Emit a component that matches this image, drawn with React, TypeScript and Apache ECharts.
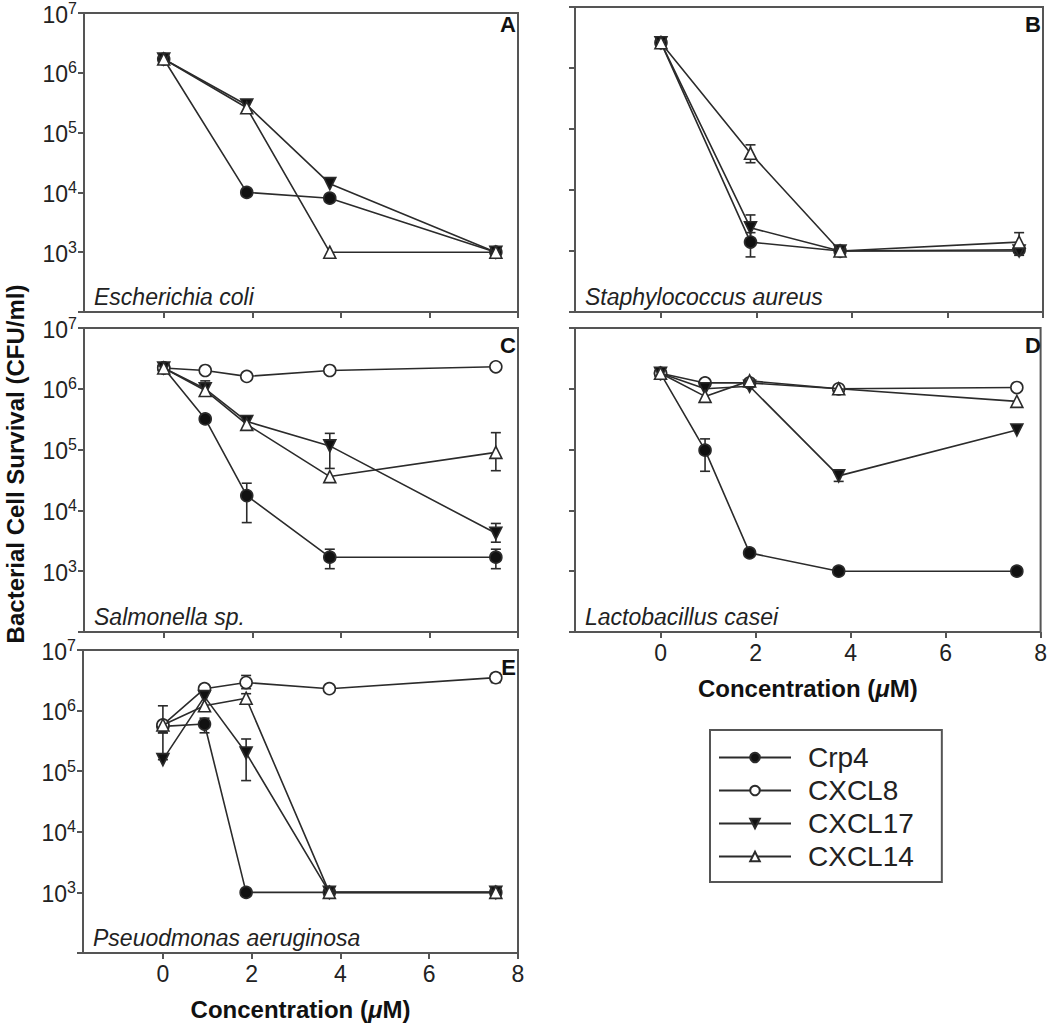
import React, { useEffect, useRef } from 'react';
import * as echarts from 'echarts';

// ---------- data ----------
const seriesNames = ['Crp4', 'CXCL8', 'CXCL17', 'CXCL14'];
const concFour = [0, 1.875, 3.75, 7.5];
const concFive = [0, 0.9375, 1.875, 3.75, 7.5];
const xTickValues = [0, 2, 4, 6, 8];
const panelLetters = ['A', 'B', 'C', 'D', 'E'];
const speciesNames = [
  'Escherichia coli',
  'Staphylococcus aureus',
  'Salmonella sp.',
  'Lactobacillus casei',
  'Pseuodmonas aeruginosa',
];

// A: Escherichia coli
const ecoliCrp4 = [1.7e6, 1.0e4, 8.0e3, 1.0e3];
const ecoliCxcl17 = [1.7e6, 2.9e5, 1.4e4, 1.0e3];
const ecoliCxcl14 = [1.7e6, 2.6e5, 1.0e3, 1.0e3];
const ecoliErrors: number[][] = [];

// B: Staphylococcus aureus
const staphCrp4 = [2.6e6, 1.4e3, 1.0e3, 1.05e3];
const staphCxcl17 = [2.6e6, 2.4e3, 1.0e3, 1.0e3];
const staphCxcl14 = [2.6e6, 4.0e4, 1.0e3, 1.4e3];
const staphErrors = [
  [1.875, 8.0e2, 2.0e3],
  [7.5, 8.5e2, 1.25e3],
  [1.875, 1.6e3, 3.9e3],
  [1.875, 2.8e4, 5.5e4],
  [7.5, 1.0e3, 2.0e3],
];

// C: Salmonella sp.
const salmCrp4 = [2.2e6, 3.2e5, 1.75e4, 1.7e3, 1.7e3];
const salmCxcl8 = [2.2e6, 2.0e6, 1.6e6, 2.0e6, 2.3e6];
const salmCxcl17 = [2.2e6, 1.0e6, 2.9e5, 1.15e5, 4.2e3];
const salmCxcl14 = [2.2e6, 9.4e5, 2.6e5, 3.6e4, 9.0e4];
const salmErrors = [
  [1.875, 6.3e3, 2.8e4],
  [3.75, 1.1e3, 2.3e3],
  [7.5, 1.1e3, 2.3e3],
  [0.9375, 8.0e5, 1.35e6],
  [3.75, 4.9e4, 1.85e5],
  [7.5, 3.0e3, 6.1e3],
  [7.5, 4.5e4, 1.9e5],
];

// D: Lactobacillus casei
const lactoCrp4 = [1.8e6, 9.8e4, 2.0e3, 1.0e3, 1.0e3];
const lactoCxcl8 = [1.8e6, 1.25e6, 1.25e6, 1.0e6, 1.05e6];
const lactoCxcl17 = [1.8e6, 1.0e6, 1.1e6, 3.7e4, 2.1e5];
const lactoCxcl14 = [1.8e6, 7.5e5, 1.35e6, 1.0e6, 6.2e5];
const lactoErrors = [
  [0.9375, 4.4e4, 1.5e5],
  [3.75, 3.0e4, 4.2e4],
];

// E: Pseudomonas aeruginosa
const pseudoCrp4 = [5.5e5, 6.0e5, 1.0e3, 1.0e3, 1.0e3];
const pseudoCxcl8 = [5.8e5, 2.3e6, 2.9e6, 2.3e6, 3.5e6];
const pseudoCxcl17 = [1.55e5, 1.7e6, 2.0e5, 1.0e3, 1.0e3];
const pseudoCxcl14 = [5.8e5, 1.2e6, 1.6e6, 1.0e3, 1.0e3];
const pseudoErrors = [
  [0, 4.3e5, 1.2e6],
  [0, 1.55e5, 4.3e5],
  [0.9375, 4.3e5, 7.5e5],
  [1.875, 2.3e6, 3.8e6],
  [7.5, 2.9e6, 4.1e6],
  [1.875, 7.0e4, 3.4e5],
  [1.875, 1.3e6, 1.9e6],
];

// ---------- panels ----------
const panels = [
  { conc: concFour, values: [ecoliCrp4, null, ecoliCxcl17, ecoliCxcl14], errors: ecoliErrors },
  { conc: concFour, values: [staphCrp4, null, staphCxcl17, staphCxcl14], errors: staphErrors },
  { conc: concFive, values: [salmCrp4, salmCxcl8, salmCxcl17, salmCxcl14], errors: salmErrors },
  { conc: concFive, values: [lactoCrp4, lactoCxcl8, lactoCxcl17, lactoCxcl14], errors: lactoErrors },
  { conc: concFive, values: [pseudoCrp4, pseudoCxcl8, pseudoCxcl17, pseudoCxcl14], errors: pseudoErrors },
];

// layout (pixels)
const gridRects = [
  { left: 84, top: 7, width: 434, height: 305 },
  { left: 575, top: 7, width: 468, height: 305 },
  { left: 84, top: 328, width: 434, height: 304 },
  { left: 575, top: 328, width: 468, height: 304 },
  { left: 83, top: 650, width: 435, height: 303 },
];
const showXLabels = [false, false, false, true, true];
const showYLabels = [true, false, true, false, true];

const FONT = '"Liberation Sans", Arial, Helvetica, sans-serif';
const INK = '#2b2b2b';
const FRAME = '#555';

const symbolStyles = [
  { symbol: 'circle', rotate: 0, size: 12, fill: '#111' },
  { symbol: 'circle', rotate: 0, size: 12, fill: '#fff' },
  { symbol: 'triangle', rotate: 180, size: 12, fill: '#111' },
  { symbol: 'triangle', rotate: 0, size: 12, fill: '#fff' },
];

function buildOption() {
  const grid: any[] = [];
  const xAxis: any[] = [];
  const yAxis: any[] = [];
  const series: any[] = [];
  const graphic: any[] = [];

  panels.forEach((p, i) => {
    const r = gridRects[i];
    grid.push({
      left: r.left,
      top: r.top,
      width: r.width,
      height: r.height,
      show: true,
      borderColor: FRAME,
      borderWidth: 2,
      backgroundColor: 'transparent',
    });
    xAxis.push({
      gridIndex: i,
      type: 'value',
      min: -1.8,
      max: 8,
      position: 'bottom',
      axisLine: { show: false, onZero: false },
      splitLine: { show: false },
      axisTick: {
        show: true,
        customValues: xTickValues,
        length: 6,
        lineStyle: { color: FRAME, width: 2 },
      },
      axisLabel: {
        show: showXLabels[i],
        customValues: xTickValues,
        fontSize: 23,
        fontFamily: FONT,
        color: '#222',
        margin: 9,
      },
      name: showXLabels[i] ? 'Concentration ({mu|μ}M)' : '',
      nameLocation: 'middle',
      nameGap: 44,
      nameTextStyle: {
        fontSize: 24,
        fontWeight: 'bold',
        fontFamily: FONT,
        color: '#111',
        rich: {
          mu: { fontSize: 24, fontWeight: 'bold', fontStyle: 'italic', fontFamily: FONT, color: '#111' },
        },
      },
    });
    yAxis.push({
      gridIndex: i,
      type: 'log',
      logBase: 10,
      min: 100,
      max: 1e7,
      position: 'left',
      axisLine: { show: false, onZero: false },
      splitLine: { show: false },
      minorTick: { show: false },
      axisTick: { show: true, length: 6, lineStyle: { color: FRAME, width: 2 } },
      axisLabel: {
        show: showYLabels[i],
        margin: 7,
        formatter: (v: number) => {
          const e = Math.round(Math.log10(v));
          if (e <= 2) return '';
          return '{b|10}{s|' + e + '}';
        },
        rich: {
          b: { fontSize: 23, fontFamily: FONT, color: '#222', lineHeight: 26, verticalAlign: 'bottom' },
          s: { fontSize: 16, fontFamily: FONT, color: '#222', lineHeight: 26, verticalAlign: 'top' },
        },
      },
    });

    p.values.forEach((vals, k) => {
      if (!vals) return;
      const st = symbolStyles[k];
      series.push({
        name: seriesNames[k],
        type: 'line',
        xAxisIndex: i,
        yAxisIndex: i,
        data: p.conc.map((c, j) => [c, vals[j]]),
        symbol: st.symbol,
        symbolRotate: st.rotate,
        symbolSize: st.size,
        showAllSymbol: true,
        lineStyle: { color: INK, width: 1.6 },
        itemStyle: { color: st.fill, borderColor: INK, borderWidth: 1.6 },
        emphasis: { disabled: true },
        z: 3 + k,
      });
    });

    series.push({
      name: 'errors-' + i,
      type: 'custom',
      xAxisIndex: i,
      yAxisIndex: i,
      data: p.errors,
      encode: { x: 0, y: [1, 2] },
      z: 2,
      silent: true,
      renderItem: (params: any, api: any) => {
        const x = api.value(0);
        const lo = api.value(1);
        const hi = api.value(2);
        const pHi = api.coord([x, hi]);
        const pLo = api.coord([x, lo]);
        const cap = 5;
        const ls = { stroke: INK, lineWidth: 1.6 };
        return {
          type: 'group',
          children: [
            { type: 'line', shape: { x1: pHi[0], y1: pHi[1], x2: pLo[0], y2: pLo[1] }, style: ls },
            { type: 'line', shape: { x1: pHi[0] - cap, y1: pHi[1], x2: pHi[0] + cap, y2: pHi[1] }, style: ls },
            { type: 'line', shape: { x1: pLo[0] - cap, y1: pLo[1], x2: pLo[0] + cap, y2: pLo[1] }, style: ls },
          ],
        };
      },
    });

    graphic.push({
      type: 'text',
      x: r.left + 10,
      y: r.top + r.height - 15,
      silent: true,
      style: {
        text: speciesNames[i],
        font: 'italic 23px ' + FONT,
        fill: '#222',
        textAlign: 'left',
        textVerticalAlign: 'middle',
      },
    });
    graphic.push({
      type: 'text',
      x: r.left + r.width - 2,
      y: r.top + 17,
      silent: true,
      style: {
        text: panelLetters[i],
        font: 'bold 22px ' + FONT,
        fill: '#111',
        textAlign: 'right',
        textVerticalAlign: 'middle',
      },
    });
  });

  graphic.push({
    type: 'text',
    x: 15,
    y: 464,
    rotation: Math.PI / 2,
    silent: true,
    style: {
      text: 'Bacterial Cell Survival (CFU/ml)',
      font: 'bold 24px ' + FONT,
      fill: '#111',
      textAlign: 'center',
      textVerticalAlign: 'middle',
    },
  });

  return {
    animation: false,
    backgroundColor: '#fff',
    grid,
    xAxis,
    yAxis,
    series,
    graphic,
    legend: {
      data: seriesNames,
      orient: 'vertical',
      left: 710,
      top: 730,
      padding: [11, 28, 9, 8],
      itemGap: 0,
      itemWidth: 72,
      itemHeight: 12,
      borderColor: FRAME,
      borderWidth: 2,
      borderRadius: 0,
      selectedMode: false,
      textStyle: {
        fontSize: 28,
        fontFamily: FONT,
        color: '#222',
        lineHeight: 33,
        padding: [0, 0, 0, 12],
      },
    },
  };
}

export default function App() {
  const ref = useRef<HTMLDivElement>(null);
  useEffect(() => {
    if (!ref.current) return;
    const chart = echarts.init(ref.current, undefined, { renderer: 'svg' });
    chart.setOption(buildOption() as any);
    return () => chart.dispose();
  }, []);
  return (
    <div
      ref={ref}
      style={{ position: 'fixed', left: 0, top: 0, width: 1050, height: 1026, background: '#fff' }}
    />
  );
}
